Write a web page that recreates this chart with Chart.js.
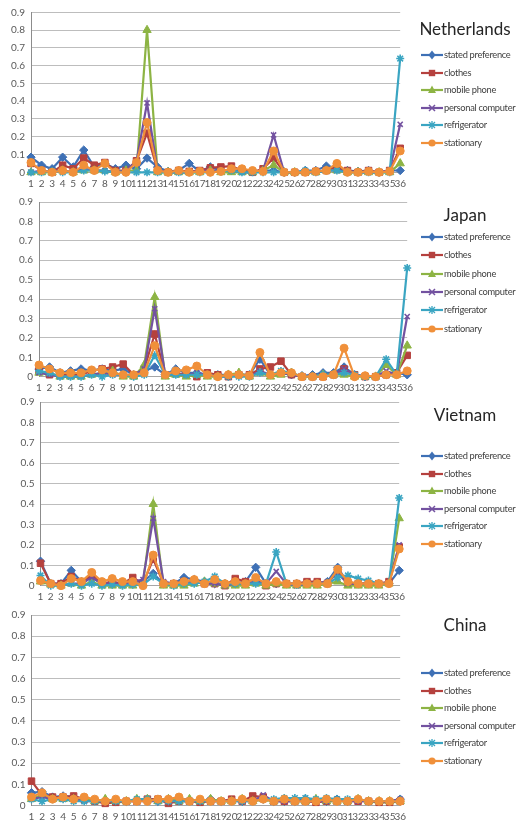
<!DOCTYPE html>
<html><head><meta charset="utf-8">
<script src="https://cdn.jsdelivr.net/npm/chart.js@4.4.1/dist/chart.umd.min.js"></script>
<style>
html,body{margin:0;padding:0;background:#fff}
body{width:517px;height:824px;position:relative;overflow:hidden;font-family:Lato,"DejaVu Sans",sans-serif}
canvas{position:absolute;left:0}
.ttl{position:absolute;left:410px;width:110px;text-align:center;font-size:17px;color:#262626;line-height:20px}
.row{position:absolute;left:421px;height:12px;line-height:12px;font-size:9.3px;color:#404040;white-space:nowrap;letter-spacing:-0.3px}
.row svg{vertical-align:top;margin-right:1px}
</style></head>
<body>
<canvas id="c0"></canvas><canvas id="c1"></canvas><canvas id="c2"></canvas><canvas id="c3"></canvas>
<div id="legs"></div>
<script>
// ---- data ----
const categories = ['1','2','3','4','5','6','7','8','9','10','11','12','13','14','15','16','17','18','19','20','21','22','23','24','25','26','27','28','29','30','31','32','33','34','35','36'];
const seriesNames = ['stated preference','clothes','mobile phone','personal computer','refrigerator','stationary'];
const yTickLabels = ['0','0.1','0.2','0.3','0.4','0.5','0.6','0.7','0.8','0.9'];
const countries = ['Netherlands','Japan','Vietnam','China'];

const nlStated = [0.085,0.04,0.02,0.085,0.03,0.125,0.03,0.05,0.02,0.04,0.02,0.08,0.03,0.005,0.01,0.05,0.005,0.03,0.01,0.01,0.01,0.005,0.01,0.01,0,0,0.01,0.01,0.035,0.02,0.01,0.005,0.01,0,0.01,0.01];
const nlClothes = [0.05,0.01,0,0.04,0.02,0.08,0.04,0.055,0.01,0.01,0.065,0.22,0.01,0,0.01,0.005,0.01,0.025,0.03,0.035,0.01,0,0.02,0.08,0,0,0,0.005,0.01,0.03,0.01,0,0.01,0,0.01,0.135];
const nlMobile = [0,0,0,0.01,0,0.01,0.01,0.01,0,0.01,0.01,0.8,0,0,0,0,0,0.01,0,0,0,0,0.01,0.04,0,0,0,0,0.01,0.01,0,0,0,0,0,0.05];
const nlPC = [0,0.01,0,0.01,0,0.02,0.01,0.01,0,0.01,0.06,0.39,0.01,0,0,0,0.01,0.01,0.01,0.01,0,0,0.01,0.21,0,0,0,0,0.01,0.01,0.005,0,0,0,0.01,0.27];
const nlFridge = [0,0,0.005,0,0,0.01,0.01,0.005,0,0,0,0,0,0,0,0,0,0,0.005,0.01,0,0,0,0,0,0,0.01,0,0.01,0.01,0,0,0,0,0,0.64];
const nlStationary = [0.055,0.01,0,0.01,0,0.04,0.01,0.05,0,0,0.055,0.28,0.01,0,0.01,0,0.005,0,0.005,0.02,0.02,0.01,0.005,0.12,0,0,0,0.005,0.01,0.05,0,0,0.005,0,0.005,0.12];

const jpStated = [0.04,0.05,0.02,0.03,0.04,0.03,0.04,0.03,0.04,0.01,0.03,0.05,0.01,0.04,0.02,0.02,0.01,0.01,0.01,0.01,0.01,0.09,0.01,0.02,0.01,0.005,0.01,0.02,0.02,0.05,0.01,0,0,0.01,0.02,0.01];
const jpClothes = [0.03,0.01,0.01,0.01,0.01,0.03,0.04,0.05,0.065,0.01,0.04,0.22,0.01,0.02,0.01,0,0.02,0.01,0,0.01,0.01,0.04,0.05,0.08,0.01,0,0,0,0.01,0.04,0.01,0,0,0.01,0.02,0.11];
const jpMobile = [0.02,0.02,0,0,0,0.01,0.02,0.03,0,0,0.06,0.41,0,0.01,0,0.01,0,0,0.01,0.02,0,0.02,0,0.01,0.02,0,0,0.01,0.01,0.01,0,0,0,0.06,0.01,0.16];
const jpPC = [0.02,0.01,0,0,0,0.01,0.02,0.01,0.01,0.01,0.04,0.35,0.01,0.01,0.01,0.02,0.01,0,0,0.01,0,0.03,0.01,0.02,0.01,0,0,0,0.01,0.04,0.01,0,0,0.03,0.01,0.31];
const jpFridge = [0.03,0.02,0,0,0,0.01,0,0.01,0.01,0,0.01,0.11,0.01,0.01,0.01,0.01,0.01,0,0,0,0,0.02,0.01,0.03,0.02,0,0,0.01,0.01,0.02,0.01,0,0,0.09,0.01,0.56];
const jpStationary = [0.06,0.04,0.02,0.02,0.02,0.035,0.035,0.02,0.01,0.01,0.02,0.16,0.01,0.03,0.035,0.055,0.01,0,0.01,0.01,0.005,0.125,0.01,0.02,0.02,0,0,0,0.01,0.147,0,0.005,0,0.01,0.01,0.03];

const vnStated = [0.12,0.01,0.01,0.075,0.02,0.04,0.01,0.01,0.01,0.02,0.02,0.06,0.01,0.01,0.04,0.03,0.02,0.01,0.01,0.01,0.02,0.09,0.01,0.01,0.01,0.01,0.01,0.01,0.02,0.09,0.01,0.01,0.01,0.01,0.01,0.075];
const vnClothes = [0.11,0.01,0.01,0.045,0.02,0.05,0.01,0.02,0.01,0.04,0.01,0.13,0.01,0.01,0.02,0.02,0.01,0.01,0,0.035,0.02,0.03,0,0.01,0.01,0.01,0.02,0.02,0.01,0.07,0.01,0.01,0.01,0.01,0.02,0.19];
const vnMobile = [0.02,0.005,0,0.01,0,0.02,0,0,0,0,0.01,0.40,0,0,0,0.01,0.02,0.01,0,0,0,0.01,0,0.01,0,0,0,0,0.01,0.02,0,0,0,0,0.01,0.33];
const vnPC = [0.03,0.005,0,0.01,0.01,0.04,0.01,0.01,0.01,0.02,0.03,0.33,0.02,0.01,0.02,0.02,0.01,0.01,0,0.01,0.01,0.02,0.01,0.07,0.01,0,0.01,0.01,0.02,0.06,0.01,0.01,0.01,0.01,0.01,0.2];
const vnFridge = [0.05,0,0,0.01,0,0.01,0,0.005,0,0.005,0.005,0.045,0.01,0,0.01,0.01,0.02,0.045,0.01,0.01,0.01,0.01,0.01,0.165,0.01,0.005,0.01,0.01,0.01,0.04,0.05,0.035,0.025,0.01,0.01,0.43];
const vnStationary = [0.025,0.01,0,0.035,0.02,0.065,0.02,0.035,0.02,0.02,0,0.15,0.01,0.01,0.02,0.03,0.01,0.03,0.01,0.02,0.01,0.04,0.01,0.02,0.01,0.01,0.01,0.01,0.01,0.08,0.02,0.01,0.01,0.01,0.01,0.18];

const cnStated = [0.06,0.065,0.04,0.045,0.04,0.03,0.025,0.02,0.02,0.02,0.025,0.03,0.02,0.03,0.035,0.025,0.02,0.03,0.02,0.025,0.02,0.025,0.03,0.02,0.02,0.02,0.03,0.02,0.02,0.03,0.02,0.025,0.02,0.02,0.02,0.03];
const cnClothes = [0.115,0.05,0.04,0.04,0.045,0.03,0.02,0.01,0.015,0.02,0.02,0.03,0.03,0.01,0.02,0.02,0.015,0.02,0.02,0.03,0.02,0.045,0.04,0.02,0.02,0.02,0.02,0.015,0.02,0.02,0.02,0.02,0.02,0.015,0.015,0.02];
const cnMobile = [0.03,0.05,0.03,0.03,0.03,0.03,0.02,0.03,0.02,0.02,0.03,0.03,0.02,0.03,0.02,0.03,0.02,0.03,0.02,0.02,0.03,0.02,0.03,0.02,0.03,0.02,0.02,0.03,0.02,0.02,0.02,0.03,0.02,0.02,0.02,0.02];
const cnPC = [0.03,0.04,0.03,0.03,0.03,0.02,0.02,0.02,0.02,0.02,0.02,0.02,0.02,0.02,0.02,0.02,0.02,0.02,0.02,0.02,0.02,0.02,0.05,0.02,0.02,0.02,0.02,0.02,0.02,0.03,0.02,0.02,0.02,0.02,0.02,0.03];
const cnFridge = [0.03,0.02,0.03,0.03,0.02,0.02,0.02,0.02,0.02,0.02,0.03,0.03,0.02,0.02,0.02,0.02,0.02,0.02,0.02,0.02,0.02,0.02,0.03,0.03,0.035,0.035,0.035,0.03,0.035,0.03,0.03,0.03,0.02,0.02,0.02,0.02];
const cnStationary = [0.04,0.06,0.03,0.04,0.03,0.04,0.03,0.02,0.03,0.02,0.02,0.02,0.03,0.03,0.04,0.02,0.03,0.02,0.02,0.02,0.03,0.02,0.03,0.02,0.03,0.02,0.02,0.02,0.03,0.02,0.02,0.03,0.02,0.02,0.02,0.02];

// ---- styling / layout ----
const colors = ['#3E70B5','#B5413E','#8DB444','#7352A0','#3AA5C2','#F0903A'];
const pStyles = ['rectRot','rect','triangle','crossRot','star','circle'];
const pRadius = [4.2,4.6,4.8,3.6,4,4];
const panelData = [
  [nlStated,nlClothes,nlMobile,nlPC,nlFridge,nlStationary],
  [jpStated,jpClothes,jpMobile,jpPC,jpFridge,jpStationary],
  [vnStated,vnClothes,vnMobile,vnPC,vnFridge,vnStationary],
  [cnStated,cnClothes,cnMobile,cnPC,cnFridge,cnStationary]
];
const geo = [
  {top:0,   pt:12.3,  pb:172.3, pl:31,   pr:407,   h:192},
  {top:190, pt:197.3, pb:376.7, pl:39,   pr:414,   h:203},
  {top:390, pt:400,   pb:585.7, pl:40.5, pr:406,   h:210},
  {top:600, pt:615,   pb:805.5, pl:31.5, pr:407,   h:224}
];
const legendGeo = [
  {title:29,  first:55,  step:17.6},
  {title:215, first:237, step:18.3},
  {title:415, first:456, step:17.6},
  {title:625, first:673, step:17.6}
];

function makeChart(idx){
  const g = geo[idx];
  const cv = document.getElementById('c'+idx);
  cv.style.top = g.top+'px';
  cv.width = Math.round(g.pr)+4; cv.height = g.h;
  cv.style.width = cv.width+'px'; cv.style.height = g.h+'px';
  const datasets = panelData[idx].map((d,i)=>({
    label: seriesNames[i], data: d,
    borderColor: colors[i], backgroundColor: colors[i],
    pointBackgroundColor: colors[i], pointBorderColor: colors[i],
    borderWidth: 2.2, pointStyle: pStyles[i], pointRadius: pRadius[i],
    pointBorderWidth: (i===3||i===4)?1.6:1, tension: 0, order: 5-i, clip: false
  }));
  new Chart(cv, {
    type:'line',
    data:{labels:categories, datasets},
    options:{
      responsive:false, animation:false, devicePixelRatio:1,
      layout:{padding:{top:g.pt-g.top, right:cv.width-g.pr, left:0, bottom:0}},
      plugins:{legend:{display:false}, tooltip:{enabled:false}},
      scales:{
        x:{
          grid:{display:false, drawTicks:false},
          border:{display:true, color:'#A6A6A6', width:1},
          ticks:{autoSkip:false, maxRotation:0, minRotation:0, padding:5, color:'#595959', font:{family:'Lato', size:10}},
          afterFit(s){ s.height = g.top + g.h - g.pb; }
        },
        y:{
          min:0, max:0.9,
          ticks:{stepSize:0.1, padding:6, color:'#595959', font:{family:'Lato', size:10},
                 callback:(v,i)=>yTickLabels[i]},
          grid:{color:'#BDBDBD', drawTicks:false, lineWidth:1},
          border:{display:true, color:'#8C8C8C', width:1},
          afterFit(s){ s.width = g.pl; }
        }
      }
    }
  });
}

function iconSVG(i){
  const c = colors[i];
  let m = '';
  if(i===0) m = `<polygon points="11,1.5 14.5,6 11,10.5 7.5,6" fill="${c}"/>`;
  else if(i===1) m = `<rect x="7.8" y="2.8" width="6.4" height="6.4" fill="${c}"/>`;
  else if(i===2) m = `<polygon points="11,1.5 15,9 7,9" fill="${c}"/>`;
  else if(i===3) m = `<path d="M8,3 L14,9 M14,3 L8,9" stroke="${c}" stroke-width="1.5"/>`;
  else if(i===4) m = `<path d="M8,3 L14,9 M14,3 L8,9 M11,2 L11,10" stroke="${c}" stroke-width="1.3"/>`;
  else m = `<circle cx="11" cy="6" r="3.6" fill="${c}"/>`;
  return `<svg width="22" height="12" viewBox="0 0 22 12"><line x1="0" y1="6" x2="22" y2="6" stroke="${c}" stroke-width="2.2"/>${m}</svg>`;
}

function makeLegend(idx){
  const L = legendGeo[idx];
  const box = document.getElementById('legs');
  const t = document.createElement('div');
  t.className='ttl'; t.textContent = countries[idx];
  t.style.top = (L.title-10)+'px';
  box.appendChild(t);
  seriesNames.forEach((n,i)=>{
    const r = document.createElement('div');
    r.className='row';
    r.style.top = (L.first + i*L.step - 6)+'px';
    r.innerHTML = iconSVG(i) + '<span>'+n+'</span>';
    box.appendChild(r);
  });
}

for(let i=0;i<4;i++){ makeChart(i); makeLegend(i); }
</script>
</body></html>
